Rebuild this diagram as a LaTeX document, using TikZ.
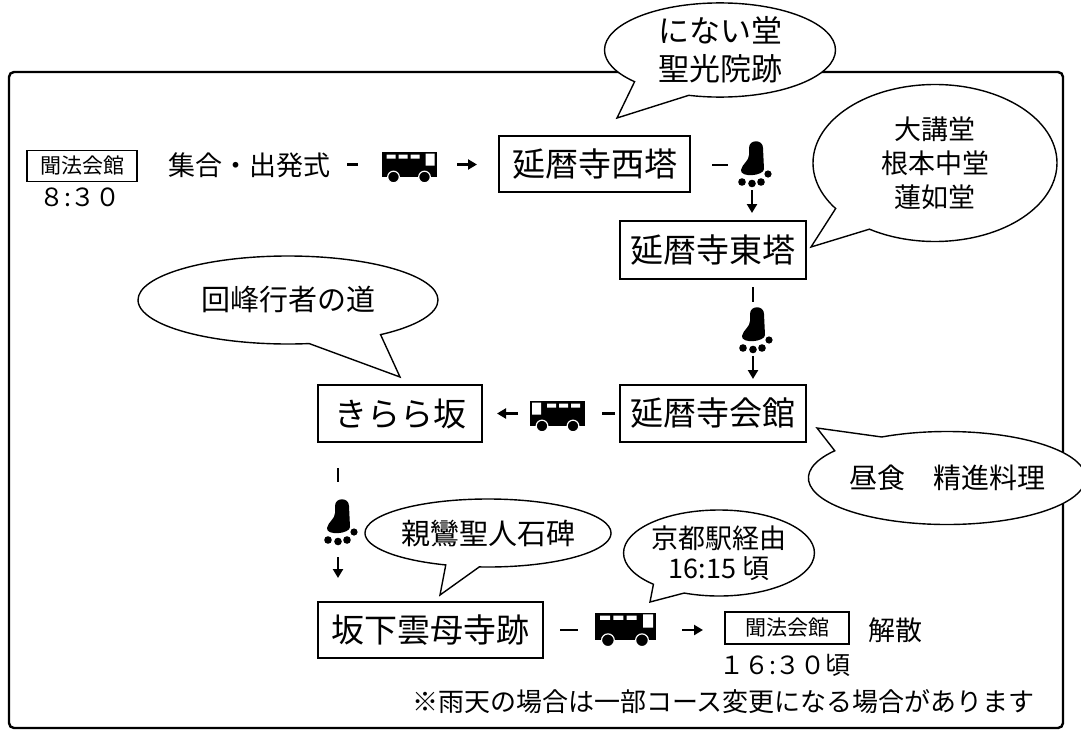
\documentclass[tikz,border=0pt]{standalone}
\usepackage{fontspec}
\setmainfont{Noto Sans CJK JP}
\usetikzlibrary{arrows.meta, shapes.callouts}

\tikzset{
	spot/.style={draw, line width=1.4, inner sep=0, font=\fontsize{33}{36}\selectfont},
	hall/.style={draw, line width=1.2, inner sep=0, minimum height=31, font=\fontsize{21}{24}\selectfont},
	words/.style={inner sep=0, font=\fontsize{27}{30}\selectfont},
	bubble/.style={ellipse callout, draw, fill=white, line width=1.4, inner sep=0, align=center, callout pointer arc=22},
	hyphen/.style={line width=2.5},
	goarrow/.style={line width=2.5, -{Triangle[length=9pt, width=10pt]}},
	bus/.pic={
		\fill (-27.5,-12.5) rectangle (27.5,12.5);
		\fill[white] (-23,-10) rectangle (-14,-6) (-11,-10) rectangle (-2,-6) (1,-10) rectangle (10,-6) (16,-11) rectangle (25,1);
		\filldraw[draw=white, line width=1.2] (-16,12.5) circle (5.8) (15,12.5) circle (5.8);
	},
	foot/.pic={
		\fill (-3,-17) .. controls (-3,-26) and (11,-26) .. (11,-17) -- (12,4) .. controls (12,11) and (-12,13) .. (-11,5) .. controls (-10,-1) and (-3,-4) .. (-3,-10) -- cycle;
		\fill (-10,17) circle (3.8) (0,18.5) circle (3.8) (9,17) circle (3.8) (16,9) circle (3.6);
	},
}

\begin{document}
\begin{tikzpicture}[x=1pt, y=-1pt]
	\useasboundingbox (0,0) rectangle (1081,731);
	\draw [rounded corners=5, line width=2.4] (9,72) rectangle (1063,728);

	% start
	\node [hall, minimum width=110] (hall1) at (82,166) {聞法会館};
	\node [words, font=\fontsize{25}{28}\selectfont] (t1) at (80,197) {８:３０};
	\node [words] (gather) at (249,165) {集合・出発式};
	\coordinate (b1) at (409.5,164.5);
	\pic at (b1) {bus};
	\draw [hyphen] ([xshift=-62.5]b1) -- ([xshift=-51.5]b1);
	\draw [goarrow] ([xshift=47.5]b1) -- ([xshift=67.5]b1);
	\node [spot, minimum width=191, minimum height=56] (west) at (594.5,164) {延暦寺西塔};

	% walk to east
	\coordinate (f1) at (752,165);
	\pic at (f1) {foot};
	\draw [hyphen] ([xshift=-40]f1) -- ([xshift=-24]f1);
	\draw [goarrow] ([yshift=-25]f1) -- ([yshift=-48]f1);
	\node [spot, minimum width=186, minimum height=58] (east) at (713,250) {延暦寺東塔};

	\coordinate (f2) at (753,331);
	\pic at (f2) {foot};
	\draw [hyphen] ([yshift=44]f2) -- ([yshift=29]f2);
	\draw [goarrow] ([yshift=-25]f2) -- ([yshift=-48]f2);
	\node [spot, minimum width=186, minimum height=57] (kaikan) at (713,413.5) {延暦寺会館};

	% bus to kirara
	\coordinate (b2) at (557,413.5);
	\pic [xscale=-1] at (b2) {bus};
	\draw [hyphen] ([xshift=45]b2) -- ([xshift=58]b2);
	\draw [goarrow] ([xshift=-39]b2) -- ([xshift=-60]b2);
	\node [spot, minimum width=164, minimum height=57] (kirara) at (400,413.5) {きらら坂};

	\coordinate (f3) at (338,523);
	\pic at (f3) {foot};
	\draw [hyphen] ([yshift=55]f3) -- ([yshift=41]f3);
	\draw [goarrow] ([yshift=-34]f3) -- ([yshift=-55]f3);
	\node [spot, minimum width=225, minimum height=56] (sakamoto) at (430.5,630) {坂下雲母寺跡};

	% back
	\coordinate (b3) at (625.5,626.5);
	\pic [scale=1.1] at (b3) {bus};
	\draw [hyphen] ([xshift=-65.5,yshift=-3.5]b3) -- ([xshift=-47.5,yshift=-3.5]b3);
	\draw [goarrow] ([xshift=56.5,yshift=-3.5]b3) -- ([xshift=77.5,yshift=-3.5]b3);
	\node [hall, minimum width=124, minimum height=32] (hall2) at (787,628) {聞法会館};
	\node [words] (end) at (895,630) {解散};
	\node [words, font=\fontsize{25}{28}\selectfont] (t2) at (785,665) {１６:３０頃};
	\node [words, font=\fontsize{26}{28}\selectfont] (note) at (723.5,702) {※雨天の場合は一部コース変更になる場合があります};

	% callouts
	\node [bubble, callout pointer arc=32, minimum width=231, minimum height=90, callout absolute pointer={(617,118)}, font=\fontsize{31}{38}\selectfont] (nanai) at (720,50) {にない堂\\聖光院跡};
	\node [bubble, minimum width=244, minimum height=157, callout absolute pointer={(811,247)}, font=\fontsize{27}{34}\selectfont] (daikodo) at (935,163) {大講堂\\根本中堂\\蓮如堂};
	\node [bubble, callout pointer arc=30, minimum width=300, minimum height=88, callout absolute pointer={(400,377)}, font=\fontsize{29}{32}\selectfont] (kaiho) at (288,300) {回峰行者の道};
	\node [bubble, callout pointer arc=26, minimum width=270, minimum height=93, callout absolute pointer={(817,428)}, font=\fontsize{28}{32}\selectfont] (lunch) at (947,478) {昼食　精進料理};
	\node [bubble, callout pointer arc=16, minimum width=243, minimum height=68, callout absolute pointer={(440,595)}, font=\fontsize{29}{32}\selectfont] (shinran) at (488,533) {親鸞聖人石碑};
	\node [bubble, minimum width=188, minimum height=86, callout absolute pointer={(650,602)}, font=\fontsize{27}{30}\selectfont] (kyoto) at (719,553) {京都駅経由\\16:15 頃};
\end{tikzpicture}
\end{document}
